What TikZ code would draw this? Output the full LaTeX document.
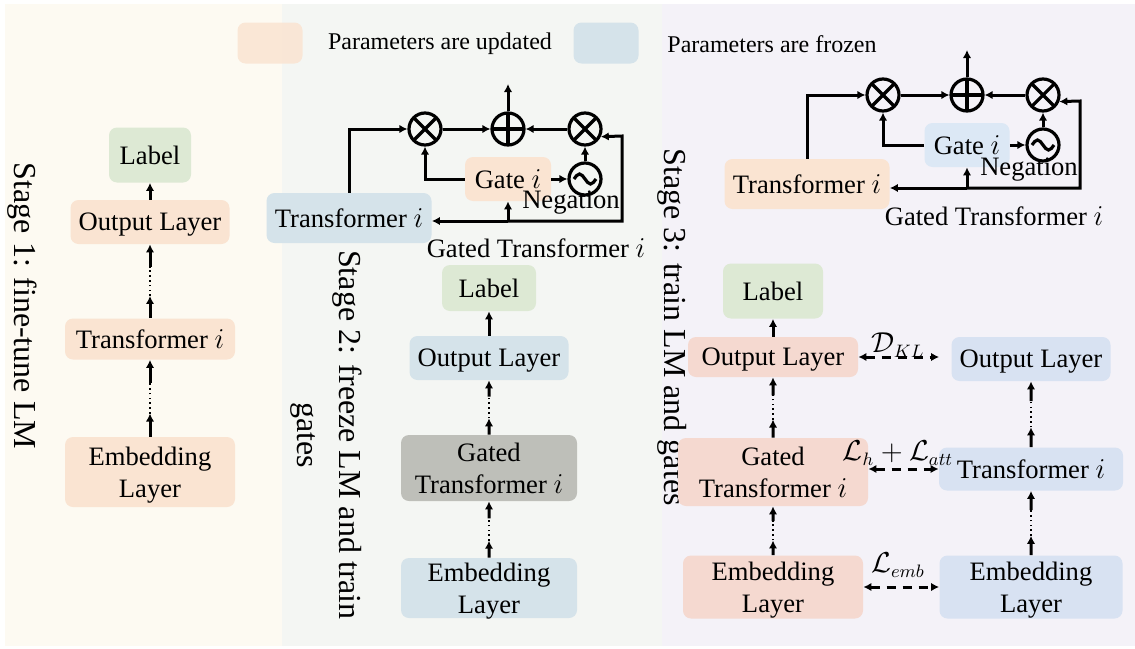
\documentclass[tikz,border=0pt]{standalone}
\usepackage{fontspec}
\setmainfont{Liberation Serif}
\usetikzlibrary{arrows.meta,calc}

\definecolor{onebg}{RGB}{253,250,242}
\definecolor{twobg}{RGB}{244,246,243}
\definecolor{threebg}{RGB}{244,242,248}
\definecolor{updated}{RGB}{250,228,210}
\definecolor{frozen}{RGB}{213,227,234}
\definecolor{labelc}{RGB}{221,233,212}
\definecolor{gatedc}{RGB}{190,191,185}
\definecolor{pinkc}{RGB}{245,217,208}
\definecolor{paleblue}{RGB}{216,226,242}
\definecolor{gateblue}{RGB}{220,232,245}

\newcommand{\boxfont}{\fontsize{13.3}{16}\selectfont}
\newcommand{\stagefont}{\fontsize{16}{21}\selectfont}
\newcommand{\legendfont}{\fontsize{12}{14}\selectfont}

\tikzset{
  box/.style={rounded corners=4pt, inner sep=0pt, align=center, font=\boxfont, text depth=0pt},
  arr/.style={-{Latex[length=4pt,width=4.2pt]}, line width=1.5pt},
  dots/.style={line width=1.4pt, dash pattern=on 0.8pt off 1.6pt},
  dasharr/.style={{Latex[length=4pt,width=4.2pt]}-{Latex[length=4pt,width=4.2pt]}, line width=1.5pt, dash pattern=on 4.5pt off 3.5pt},
  op/.style={circle, draw, line width=1.6pt, minimum size=16pt, inner sep=0pt},
  mul/.style={op, path picture={\draw[line width=1.6pt] (path picture bounding box.north west) -- (path picture bounding box.south east) (path picture bounding box.north east) -- (path picture bounding box.south west);}},
  add/.style={op, path picture={\draw[line width=1.6pt] (path picture bounding box.north) -- (path picture bounding box.south) (path picture bounding box.east) -- (path picture bounding box.west);}},
  neg/.style={op, path picture={\draw[line width=1.6pt] ($(path picture bounding box.center)+(-5.5pt,0pt)$) sin ++(2.75pt,2.5pt) cos ++(2.75pt,-2.5pt) sin ++(2.75pt,-2.5pt) cos ++(2.75pt,2.5pt);}},
  stage/.style={rotate=-90, font=\stagefont, align=center},
  note/.style={font=\boxfont, inner sep=1pt}
}

\begin{document}
\begin{tikzpicture}[x=0.5pt, y=-0.5pt]
  \useasboundingbox (0,0) rectangle (1135,648);
  % panels
  \fill[onebg] (5,4) rectangle (282,646);
  \fill[twobg] (282,4) rectangle (662,646);
  \fill[threebg] (662,4) rectangle (1135,646);

  % legend
  \node[box, fill=updated, fill opacity=0.85, minimum width=32.5pt, minimum height=20.5pt] (updkey) at (270,43) {};
  \node[font=\legendfont] (updtxt) at (440,44) {Parameters are updated};
  \node[box, fill=frozen, minimum width=32.5pt, minimum height=20.5pt] (frzkey) at (606,43) {};
  \node[font=\legendfont] (frztxt) at (772,44) {Parameters are frozen};

  % stage 1
  \node[stage] (s1) at (22,306) {Stage 1: fine-tune LM};
  \node[box, fill=labelc, minimum width=41pt, minimum height=27.5pt] (l1) at (150,155) {Label};
  \node[box, fill=updated, minimum width=79.5pt, minimum height=22pt] (o1) at (150,222) {Output Layer};
  \node[box, fill=updated, minimum width=85pt, minimum height=20.5pt] (t1) at (150,339) {Transformer $i$};
  \node[box, fill=updated, minimum width=85pt, minimum height=35pt] (e1) at (150,472) {Embedding\\Layer};

  % stage 2
  \node[stage] (s2) at (326,435) {Stage 2: freeze LM and train\\gates};
  \node[box, fill=frozen, minimum width=82.5pt, minimum height=25pt] (tg2) at (349,218) {Transformer $i$};
  \node[mul] (m2a) at (425,129) {};
  \node[add] (p2) at (508,129) {};
  \node[mul] (m2b) at (585,129) {};
  \node[neg] (n2) at (585,179) {};
  \node[box, fill=updated, minimum width=43pt, minimum height=22pt] (gate2) at (508,179) {Gate $i$};
  \node[note] (neg2) at (571,203) {Negation};
  \node[note] (gtt2) at (536,248) {Gated Transformer $i$};
  \coordinate (j2) at (508,221);
  \coordinate (k2) at (622,136);
  \coordinate (up2) at (508,84);
  \draw[arr] (tg2.north) |- (m2a.west);
  \draw[arr] (gate2.west) -| (m2a.south);
  \draw[arr] (m2a) -- (p2);
  \draw[arr] (m2b) -- (p2);
  \draw[arr] (p2) -- (up2);
  \draw[arr] (gate2) -- (n2);
  \draw[arr] (n2) -- (m2b);
  \draw[arr] (j2) -- (tg2.east |- j2);
  \draw[arr] (j2) -- (gate2.south);
  \draw[arr] (j2) -| (k2) -- (m2b.-26);

  \node[box, fill=labelc, minimum width=47pt, minimum height=23pt] (l2) at (489,288) {Label};
  \node[box, fill=frozen, minimum width=79.5pt, minimum height=22pt] (o2) at (489,358) {Output Layer};
  \node[box, fill=gatedc, minimum width=88pt, minimum height=33pt] (gt2) at (489,468) {Gated\\Transformer $i$};
  \node[box, fill=frozen, minimum width=88pt, minimum height=30pt] (e2) at (489,588) {Embedding\\Layer};

  % stage 3
  \node[stage] (s3) at (672,327) {Stage 3: train LM and gates};
  \node[box, fill=updated, minimum width=82.5pt, minimum height=25pt] (tg3) at (807,184) {Transformer $i$};
  \node[mul] (m3a) at (883,95) {};
  \node[add] (p3) at (967,95) {};
  \node[mul] (m3b) at (1043,95) {};
  \node[neg] (n3) at (1043,145) {};
  \node[box, fill=gateblue, minimum width=42.5pt, minimum height=22pt] (gate3) at (967,145) {Gate $i$};
  \node[note] (neg3) at (1029,170) {Negation};
  \node[note] (gtt3) at (994,216) {Gated Transformer $i$};
  \coordinate (j3) at (967,188);
  \coordinate (k3) at (1080,101);
  \coordinate (up3) at (967,50);
  \draw[arr] (tg3.north) |- (m3a.west);
  \draw[arr] (gate3.west) -| (m3a.south);
  \draw[arr] (m3a) -- (p3);
  \draw[arr] (m3b) -- (p3);
  \draw[arr] (p3) -- (up3);
  \draw[arr] (gate3) -- (n3);
  \draw[arr] (n3) -- (m3b);
  \draw[arr] (j3) -- (tg3.east |- j3);
  \draw[arr] (j3) -- (gate3.south);
  \draw[arr] (j3) -| (k3) -- (m3b.-22);

  \node[box, fill=labelc, minimum width=50pt, minimum height=27.5pt] (l3) at (773,291) {Label};
  \node[box, fill=pinkc, minimum width=85pt, minimum height=20pt] (o3) at (773,357) {Output Layer};
  \node[box, fill=pinkc, minimum width=95pt, minimum height=34pt] (gt3) at (773,472) {Gated\\Transformer $i$};
  \node[box, fill=pinkc, minimum width=90pt, minimum height=31.5pt] (e3) at (773,587) {Embedding\\Layer};
  \node[box, fill=paleblue, minimum width=79.5pt, minimum height=22pt] (o3r) at (1031,359) {Output Layer};
  \node[box, fill=paleblue, minimum width=92pt, minimum height=21.5pt] (t3r) at (1031,469) {Transformer $i$};
  \node[box, fill=paleblue, minimum width=91.5pt, minimum height=31.5pt] (e3r) at (1031,587) {Embedding\\Layer};

  \draw[dasharr, shorten >=6pt] (o3.east) -- (o3.east -| o3r.west);
  \draw[dasharr] (gt3.east |- t3r) -- (t3r.west);
  \draw[dasharr] (e3.east) -- (e3r.west);
  \node[note] (dkl) at (898,345) {$\mathcal{D}_{KL}$};
  \node[note] (lhatt) at (898,453) {$\mathcal{L}_h+\mathcal{L}_{att}$};
  \node[note] (lemb) at (898,565) {$\mathcal{L}_{emb}$};

  % vertical connectors
  \foreach \a/\b in {o1/l1, o2/l2, o3/l3}
    \draw[arr] (\a) -- (\b);
  \foreach \a/\b in {e1/t1, t1/o1, e2/gt2, gt2/o2, e3/gt3, gt3/o3, e3r/t3r, t3r/o3r} {
    \coordinate (pa) at ($(\a.north)!0.3!(\b.south)$);
    \coordinate (pb) at ($(\a.north)!0.7!(\b.south)$);
    \draw[arr] (\a.north) -- (pa);
    \draw[dots] (pa) -- (pb);
    \draw[arr] (pb) -- (\b.south);
  }
\end{tikzpicture}
\end{document}
